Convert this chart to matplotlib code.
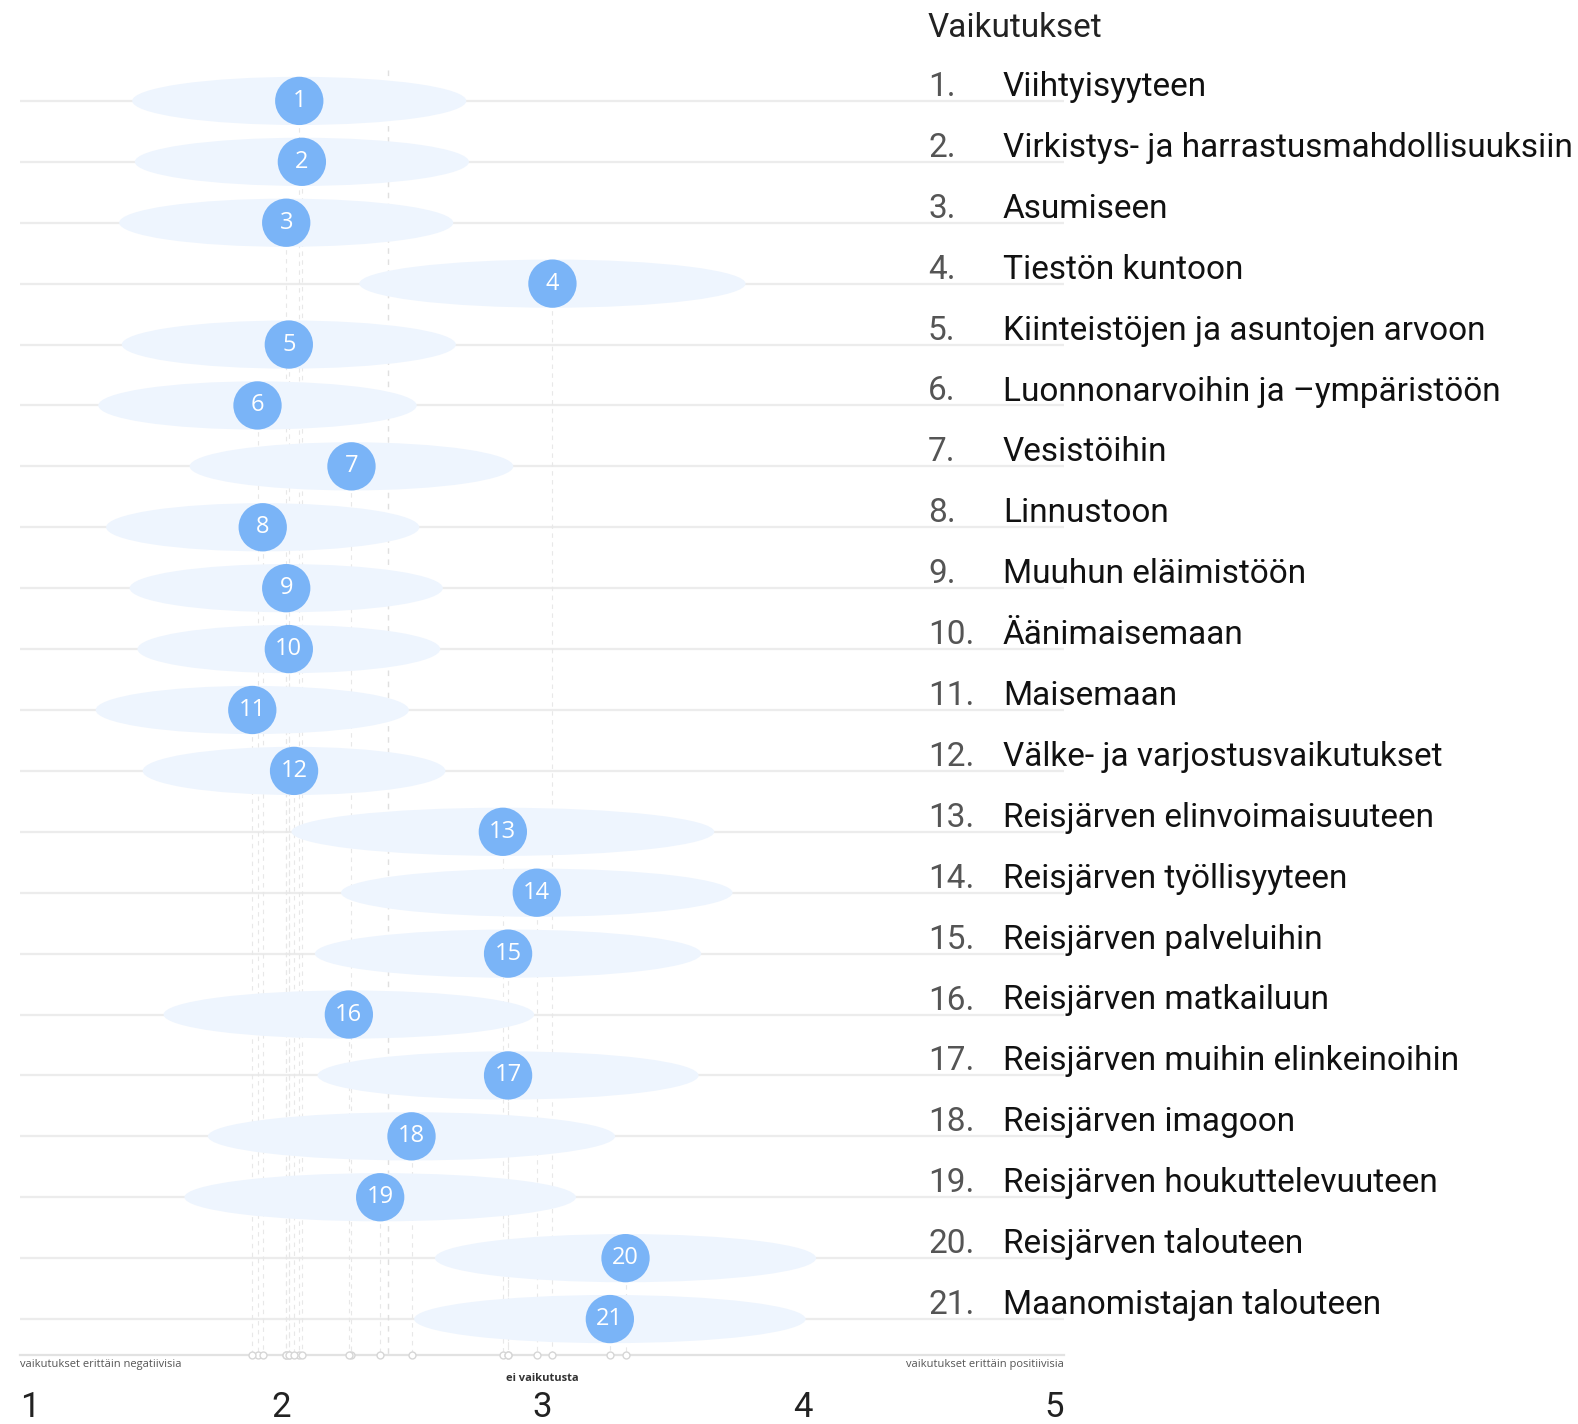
import numpy as np
import matplotlib.pyplot as plt
from matplotlib import font_manager
from matplotlib.patches import Ellipse

labels = ['Viihtyisyyteen', 'Virkistys- ja harrastusmahdollisuuksiin', 'Asumiseen',
          'Tiestön kuntoon', 'Kiinteistöjen ja asuntojen arvoon',
          'Luonnonarvoihin ja \u2013ympäristöön', 'Vesistöihin', 'Linnustoon',
          'Muuhun eläimistöön', 'Äänimaisemaan', 'Maisemaan',
          'Välke- ja varjostusvaikutukset', 'Reisjärven elinvoimaisuuteen',
          'Reisjärven työllisyyteen', 'Reisjärven palveluihin', 'Reisjärven matkailuun',
          'Reisjärven muihin elinkeinoihin', 'Reisjärven imagoon',
          'Reisjärven houkuttelevuuteen', 'Reisjärven talouteen',
          'Maanomistajan talouteen']
means = [2.07, 2.08, 2.02, 3.04, 2.03, 1.91, 2.27, 1.93, 2.02, 2.03, 1.89,
         2.05, 2.85, 2.98, 2.87, 2.26, 2.87, 2.50, 2.38, 3.32, 3.26]
spread = [0.64, 0.64, 0.64, 0.74, 0.64, 0.61, 0.62, 0.60, 0.60, 0.58, 0.60,
          0.58, 0.81, 0.75, 0.74, 0.71, 0.73, 0.78, 0.75, 0.73, 0.75]
scale_ticks = [1, 2, 3, 4, 5]

names = {f.name for f in font_manager.fontManager.ttflist}
list_font = 'Roboto' if 'Roboto' in names else 'DejaVu Sans'
bubble_font = 'Open Sans' if 'Open Sans' in names else 'DejaVu Sans'

W, H = 1578, 1424
fig = plt.figure(figsize=(W / 100, H / 100), dpi=100)
ax = fig.add_axes([20 / W, 1 - 1355 / H, 1044 / W, (1355 - 40) / H])
ax.set_xlim(1, 5)
ax.set_ylim(21.59, 0)
ax.axis('off')

rows = np.arange(1, len(means) + 1)
dot = '#7ab4f7'
grid = '#ececec'

for r in rows:
    ax.plot([1, 5], [r, r], color=grid, lw=1.6, zorder=1)
ax.plot([1, 5], [21.59, 21.59], color='#e2e2e2', lw=1.6, zorder=1, clip_on=False)

for r, m, s in zip(rows, means, spread):
    ax.add_patch(Ellipse((m, r), 2 * s, 0.79, facecolor='#eef5fe', edgecolor='none', zorder=2))

# drop lines to the baseline and overall mean line
for r, m in zip(rows, means):
    ax.plot([m, m], [r, 21.59], color='#e8e8e8', lw=0.8, ls=(0, (4, 4)), zorder=1.5)
ax.plot([np.mean(means)] * 2, [0.5, 21.59], color='#e0e0e0', lw=1, ls=(0, (4, 4)), zorder=1.5)
ax.plot(means, [21.59] * len(means), 'o', ms=5, mfc='white', mec='#d6d6d6', mew=1,
        zorder=3, clip_on=False)

ax.scatter(means, rows, s=1210, color=dot, zorder=4, edgecolors='none')
for r, m in zip(rows, means):
    ax.text(m, r, str(r), color='white', fontsize=17, ha='center', va='center',
            family=bubble_font, zorder=5)

# scale annotations below the axis
ax.text(1, 21.74, 'vaikutukset erittäin negatiivisia', fontsize=8, color='#555555',
        ha='left', va='center', family=bubble_font)
ax.text(5, 21.74, 'vaikutukset erittäin positiivisia', fontsize=8, color='#555555',
        ha='right', va='center', family=bubble_font)
ax.text(3, 21.98, 'ei vaikutusta', fontsize=8, color='#333333', fontweight='bold',
        ha='center', va='center', family=bubble_font)
for t in scale_ticks:
    ha = 'left' if t == 1 else ('right' if t == 5 else 'center')
    ax.text(t, 22.46, str(t), fontsize=25, color='#222222', ha=ha, va='center',
            family=list_font, clip_on=False)

# legend list on the right
fig.text(928 / W, 1 - 28 / H, 'Vaikutukset', fontsize=24, color='#222222',
         ha='left', va='center', family=list_font)
for r, lab in zip(rows, labels):
    ypx = 101 + (r - 1) * 60.9 - 14
    fig.text(928 / W, 1 - ypx / H, f'{r}.', fontsize=24, color='#555555',
             ha='left', va='center', family=list_font)
    fig.text(1003 / W, 1 - ypx / H, lab, fontsize=24, color='#111111',
             ha='left', va='center', family=list_font)

plt.savefig('out.png', dpi=100)
